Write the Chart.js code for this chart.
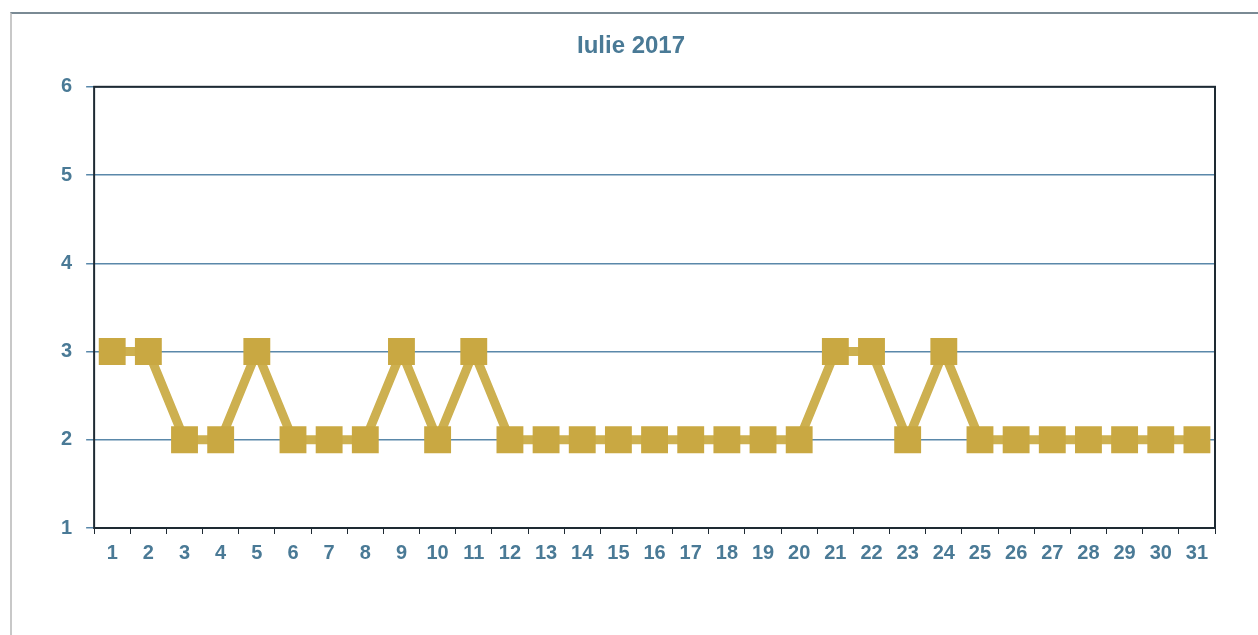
<!DOCTYPE html>
<html>
<head>
<meta charset="utf-8">
<script src="https://cdn.jsdelivr.net/npm/chart.js@4"></script>
<style>
  html, body { margin: 0; padding: 0; background: #fff; }
  #wrap { position: relative; width: 1258px; height: 635px; }
  #frame { position: absolute; left: 10px; top: 12px; width: 1248px; height: 623px;
           border-top: 2px solid #7a8a94; border-left: 2px solid #c8c8c8; box-sizing: border-box; }
</style>
</head>
<body>
<div id="wrap">
  <div id="frame"></div>
  <canvas id="myChart" width="1258" height="635"></canvas>
</div>
<script>
const ctx = document.getElementById('myChart');

const zile = ['1','2','3','4','5','6','7','8','9','10','11','12','13','14','15','16',
  '17','18','19','20','21','22','23','24','25','26','27','28','29','30','31'];
const valori = [3, 3, 2, 2, 3, 2, 2, 2, 3, 2, 3, 2, 2, 2, 2, 2,
  2, 2, 2, 2, 3, 3, 2, 3, 2, 2, 2, 2, 2, 2, 2];
const yTicks = [1, 2, 3, 4, 5, 6];

const albastru = '#4a7a96';

// contur negru al zonei de grafic
const chenar = {
  id: 'chenar',
  afterDraw(chart) {
    const a = chart.chartArea;
    const c = chart.ctx;
    c.save();
    c.strokeStyle = '#1e2a33';
    c.lineWidth = 2;
    c.strokeRect(a.left, a.top, a.right - a.left, a.bottom - a.top);
    c.restore();
  }
};

new Chart(ctx, {
  type: 'line',
  data: {
    labels: zile,
    datasets: [{
      label: 'Iulie 2017',
      data: valori,
      borderColor: '#cdb050',
      backgroundColor: '#c9a842',
      borderWidth: 9,
      pointStyle: 'rect',
      pointRadius: 19,
      pointBorderWidth: 0,
      tension: 0
    }]
  },
  options: {
    responsive: false,
    animation: false,
    layout: { padding: { left: 47, right: 43, top: 10, bottom: 63 } },
    plugins: {
      legend: { display: false },
      tooltip: { enabled: false },
      title: {
        display: true,
        text: 'Iulie 2017',
        color: albastru,
        font: { family: 'Liberation Sans', size: 24, weight: 'bold' },
        padding: { top: 22, bottom: 26 }
      }
    },
    scales: {
      x: {
        offset: true,
        grid: { offset: true, drawOnChartArea: false, color: '#1e2a33', tickLength: 6 },
        border: { display: false },
        ticks: {
          color: albastru,
          font: { family: 'Liberation Sans', size: 20, weight: 'bold' },
          maxRotation: 0,
          autoSkip: false,
          padding: 7
        }
      },
      y: {
        min: 1,
        max: 6,
        afterBuildTicks(axis) { axis.ticks = yTicks.map(v => ({ value: v })); },
        grid: { color: '#5a88aa', lineWidth: 1.5, tickLength: 8 },
        border: { display: false },
        ticks: {
          color: albastru,
          font: { family: 'Liberation Sans', size: 20, weight: 'bold' },
          padding: 14
        }
      }
    }
  },
  plugins: [chenar]
});
</script>
</body>
</html>
